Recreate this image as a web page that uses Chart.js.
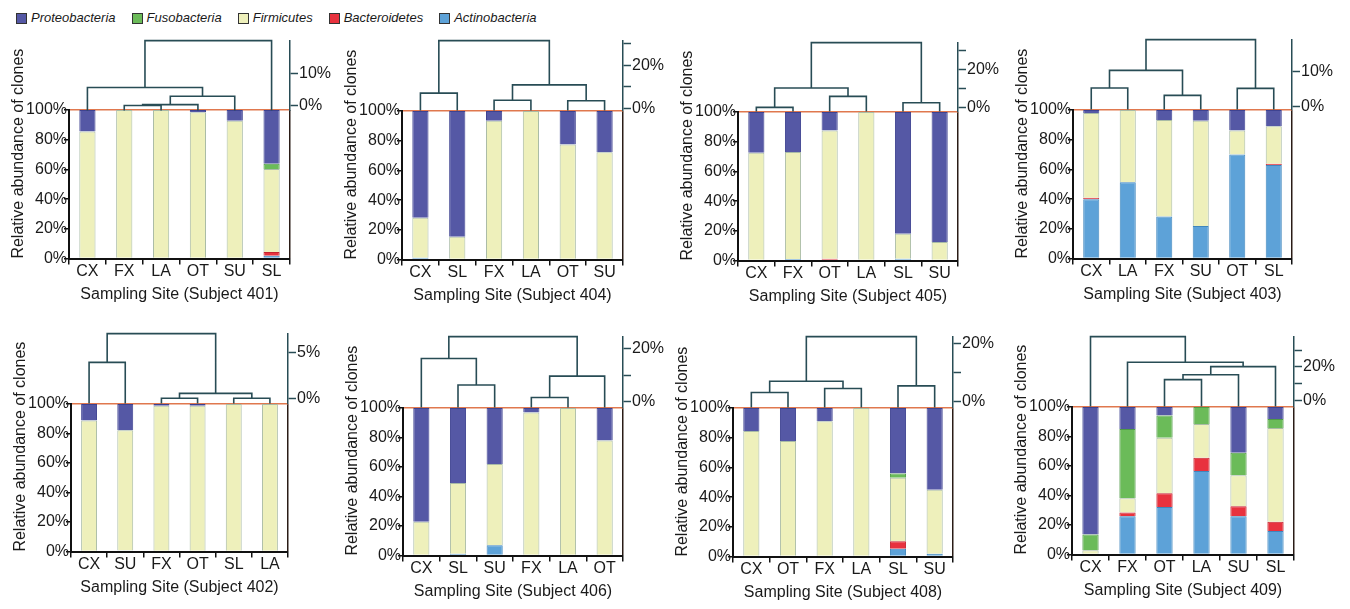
<!DOCTYPE html>
<html>
<head>
<meta charset="utf-8">
<script src="https://cdn.jsdelivr.net/npm/chart.js@4.4.1/dist/chart.umd.min.js"></script>
<style>
  body { margin: 0; background: #fff; width: 1350px; height: 609px; position: relative; overflow: hidden;
         font-family: "Liberation Sans", Arial, sans-serif; }
  canvas { position: absolute; }
  #legend { position: absolute; left: 16px; top: 9px; display: flex; gap: 16px; font-size: 13px;
            font-style: italic; color: #1a1a1a; line-height: 18px; }
  .item { display: flex; align-items: center; gap: 4px; }
  .box { width: 9px; height: 9px; border: 1px solid #333; }
</style>
</head>
<body>
<div id="legend"></div>
<script>
// phyla, listed top of stack first (legend order)
const phyla = ['Proteobacteria', 'Fusobacteria', 'Firmicutes', 'Bacteroidetes', 'Actinobacteria'];
const phylaColors = ['#5558a5', '#6bbb59', '#eef0bb', '#e8323e', '#5da2d8'];
const phylaBorders = ['#3e4290', '#4f9a45', '#a9bba6', '#c4242e', '#3f86bd'];

// Subject 401
const sites401 = ['CX', 'FX', 'LA', 'OT', 'SU', 'SL'];
const actino401 = [0, 0, 0, 0, 0, 2];
const bactero401 = [0, 0, 0, 0, 0, 2.5];
const firmi401 = [85.5, 100, 100, 98.5, 92.8, 55.8];
const fuso401 = [0, 0, 0, 0, 0, 3.5];
const proteo401 = [14.5, 0, 0, 1.5, 7.2, 36.2];
const tree401 = [[1, 2, 0.1], [6, 3, 0.4], [7, 4, 3.0], [0, 8, 5.7], [9, 5, 20.2]];
const ticks401 = [0, 10];

// Subject 404
const sites404 = ['CX', 'SL', 'FX', 'LA', 'OT', 'SU'];
const actino404 = [1.2, 0, 0, 0, 0, 0];
const bactero404 = [0, 0, 0, 0, 0, 0];
const firmi404 = [27, 15.3, 93.5, 100, 77.5, 72.2];
const fuso404 = [0, 0, 0, 0, 0, 0];
const proteo404 = [71.8, 84.7, 6.5, 0, 22.5, 27.8];
const tree404 = [[4, 5, 3.6], [2, 3, 3.8], [0, 1, 7.1], [7, 6, 10.9], [8, 9, 31.4]];
const ticks404 = [0, 10, 20, 30];

// Subject 405
const sites405 = ['CX', 'FX', 'OT', 'LA', 'SL', 'SU'];
const actino405 = [0, 1, 0, 0, 1.2, 0];
const bactero405 = [0, 0, 1.2, 0, 0, 0];
const firmi405 = [72.5, 72, 86.3, 100, 16.8, 12.5];
const fuso405 = [0, 0, 0, 0, 0, 0];
const proteo405 = [27.5, 27, 12.5, 0, 82, 87.5];
const tree405 = [[0, 1, 0.2], [4, 5, 2.6], [2, 3, 6], [6, 8, 10.4], [9, 7, 34.2]];
const ticks405 = [0, 10, 20, 30];

// Subject 403
const sites403 = ['CX', 'LA', 'FX', 'SU', 'OT', 'SL'];
const actino403 = [40, 51.3, 28.3, 22, 70, 63];
const bactero403 = [1, 0, 0, 0, 0, 0.8];
const firmi403 = [57, 48.7, 65, 70.8, 16.2, 25.2];
const fuso403 = [0, 0, 0, 0, 0, 0];
const proteo403 = [2, 0, 6.7, 7.2, 13.8, 11];
const tree403 = [[2, 3, 3.2], [4, 5, 5.2], [0, 1, 5.3], [8, 6, 10.4], [9, 7, 19.3]];
const ticks403 = [0, 10];

// Subject 402
const sites402 = ['CX', 'SU', 'FX', 'OT', 'SL', 'LA'];
const actino402 = [0, 0.8, 0, 0, 0, 0];
const bactero402 = [0, 0, 0, 0, 0, 0];
const firmi402 = [88.9, 81.5, 98.8, 98.8, 100, 100];
const fuso402 = [0, 0, 0, 0, 0, 0];
const proteo402 = [11.1, 17.7, 1.2, 1.2, 0, 0];
const tree402 = [[2, 3, 0.02], [4, 5, 0.02], [6, 7, 0.55], [0, 1, 3.9], [9, 8, 7.0]];
const ticks402 = [0, 5];

// Subject 406
const sites406 = ['CX', 'SL', 'SU', 'FX', 'LA', 'OT'];
const actino406 = [0, 1.2, 7, 0, 0, 0];
const bactero406 = [0, 0, 0, 0, 0, 0];
const firmi406 = [23, 48, 55, 97, 100, 78];
const fuso406 = [0, 0, 0, 0, 0, 0];
const proteo406 = [77, 50.8, 38, 3, 0, 22];
const tree406 = [[3, 4, 1.6], [1, 2, 6.3], [6, 5, 9.6], [0, 7, 16.2], [9, 8, 24.4]];
const ticks406 = [0, 10, 20];

// Subject 408
const sites408 = ['CX', 'OT', 'FX', 'LA', 'SL', 'SU'];
const actino408 = [0, 0, 0, 0, 5.3, 2];
const bactero408 = [0, 0, 0, 0, 5, 0];
const firmi408 = [84.5, 77.8, 91, 100, 42.7, 43];
const fuso408 = [0, 0, 0, 0, 3, 0];
const proteo408 = [15.5, 22.2, 9, 0, 44, 55];
const tree408 = [[0, 1, 3.2], [2, 3, 4.6], [4, 5, 5.5], [6, 7, 7.1], [9, 8, 22.4]];
const ticks408 = [0, 10, 20];

// Subject 409
const sites409 = ['CX', 'FX', 'OT', 'LA', 'SU', 'SL'];
const actino409 = [0, 26, 32.3, 56.6, 26, 16];
const bactero409 = [0, 2.6, 9.3, 9, 6.8, 6.2];
const firmi409 = [2.9, 9.5, 37.5, 22.9, 21, 63.6];
const fuso409 = [10.8, 47, 15.1, 11.5, 15.2, 6];
const proteo409 = [86.3, 14.9, 5.8, 0, 31, 8.2];
const tree409 = [[2, 3, 12.4], [6, 4, 15.3], [7, 5, 20.2], [1, 8, 22.8], [0, 9, 38.2]];
const ticks409 = [0, 10, 20, 30];

// the panels, as the library needs them (series bottom of stack first)
const panels = [
  { subject: '401', sites: sites401, values: [actino401, bactero401, firmi401, fuso401, proteo401], tree: tree401, ticks: ticks401, labelStep: 10 },
  { subject: '404', sites: sites404, values: [actino404, bactero404, firmi404, fuso404, proteo404], tree: tree404, ticks: ticks404, labelStep: 20 },
  { subject: '405', sites: sites405, values: [actino405, bactero405, firmi405, fuso405, proteo405], tree: tree405, ticks: ticks405, labelStep: 20 },
  { subject: '403', sites: sites403, values: [actino403, bactero403, firmi403, fuso403, proteo403], tree: tree403, ticks: ticks403, labelStep: 10 },
  { subject: '402', sites: sites402, values: [actino402, bactero402, firmi402, fuso402, proteo402], tree: tree402, ticks: ticks402, labelStep: 5 },
  { subject: '406', sites: sites406, values: [actino406, bactero406, firmi406, fuso406, proteo406], tree: tree406, ticks: ticks406, labelStep: 20 },
  { subject: '408', sites: sites408, values: [actino408, bactero408, firmi408, fuso408, proteo408], tree: tree408, ticks: ticks408, labelStep: 20 },
  { subject: '409', sites: sites409, values: [actino409, bactero409, firmi409, fuso409, proteo409], tree: tree409, ticks: ticks409, labelStep: 20 }
];

// plot-area boxes on the page (l, r, t, b), top of dendrogram, and leaf level of the tree axis
const boxes = [
  { l: 69, r: 290, t: 110, b: 259, top: 39.5, leaf: -1.4 },
  { l: 402, r: 623, t: 111, b: 260, top: 40, leaf: -0.9 },
  { l: 738, r: 958, t: 112, b: 261, top: 42, leaf: -1.9 },
  { l: 1073, r: 1292, t: 110, b: 259, top: 39, leaf: -0.86 },
  { l: 71, r: 288, t: 404, b: 552, top: 333, leaf: -0.53 },
  { l: 403, r: 623, t: 407.5, b: 555.5, top: 336, leaf: -2.1 },
  { l: 733, r: 953, t: 407.5, b: 556, top: 336, leaf: -1.9 },
  { l: 1072, r: 1294, t: 407, b: 555, top: 336, leaf: -3.7 }
];

const AXIS_W = 60;     // left y axis
const RIGHT_W = 45;    // dendrogram axis on the right
const PAD_T = 10;      // dendrogram canvas padding
const PAD_BAR = 80;    // room above the bar plot for the long y title
const XAXIS_H = 47.4;  // tick 6 + labels 19.2 + title 28.2 - padding 6
const TEXT = '#1a1a1a';
const TREE = '#284c55';

Chart.defaults.font.family = '"Liberation Sans", Arial, sans-serif';
Chart.defaults.font.size = 16;
Chart.defaults.color = TEXT;

// legend
const legendEl = document.getElementById('legend');
phyla.forEach((name, i) => {
  const item = document.createElement('div');
  item.className = 'item';
  item.innerHTML = '<span class="box" style="background:' + phylaColors[i] + '"></span><span>' + name + '</span>';
  legendEl.appendChild(item);
});

function addCanvas(left, top, w, h) {
  const c = document.createElement('canvas');
  c.width = Math.round(w);
  c.height = Math.round(h);
  c.style.left = left + 'px';
  c.style.top = top + 'px';
  document.body.appendChild(c);
  return c;
}

function makeBars(p, box) {
  const w = box.r - box.l + AXIS_W + RIGHT_W;
  const h = PAD_BAR + (box.b - box.t) + XAXIS_H;
  const canvas = addCanvas(box.l - AXIS_W, box.t - PAD_BAR, w, h);
  // stack order: Actinobacteria at the bottom, Proteobacteria on top
  const datasets = p.values.map((vals, k) => {
    const i = phyla.length - 1 - k;
    return {
      label: phyla[i],
      data: vals,
      backgroundColor: phylaColors[i],
      borderColor: phylaBorders[i],
      borderWidth: 1,
      barPercentage: 0.44,
      categoryPercentage: 1
    };
  });
  new Chart(canvas, {
    type: 'bar',
    data: { labels: p.sites, datasets },
    options: {
      responsive: false,
      animation: false,
      devicePixelRatio: 1,
      layout: { padding: { top: PAD_BAR, right: RIGHT_W, left: 0, bottom: 0 } },
      plugins: { legend: { display: false }, tooltip: { enabled: false } },
      scales: {
        x: {
          stacked: true,
          grid: {
            offset: true,
            color: c => c.type === 'tick' ? 'rgba(0,0,0,0)' : '#2a1c16',
            lineWidth: 1.5,
            tickColor: '#111',
            tickWidth: 1.5,
            tickLength: 6
          },
          border: { color: '#111', width: 2 },
          ticks: { padding: -3, maxRotation: 0, autoSkip: false, color: TEXT },
          title: {
            display: true,
            text: 'Sampling Site (Subject ' + p.subject + ')',
            color: TEXT,
            padding: { top: 7, bottom: 2 }
          }
        },
        y: {
          stacked: true,
          min: 0,
          max: 100,
          afterFit: s => { s.width = AXIS_W; },
          ticks: { stepSize: 20, padding: -3, color: TEXT, callback: v => v + '%' },
          grid: {
            color: c => (c.tick && c.tick.value === 100) ? '#e0784e' : 'rgba(0,0,0,0)',
            lineWidth: 1.5,
            tickColor: '#111',
            tickWidth: 1.5,
            tickLength: 5
          },
          border: { color: '#111', width: 2 },
          title: { display: true, text: 'Relative abundance of clones', color: TEXT, padding: 0, align: 'start' }
        }
      }
    }
  });
}

function makeTree(p, box) {
  const w = box.r - box.l + AXIS_W + RIGHT_W;
  const h = (box.t - box.top) + 2 * PAD_T;
  const canvas = addCanvas(box.l - AXIS_W, box.top - PAD_T, w, h);

  // leaves sit at the category positions 0..5, each merge makes a new node
  const nodes = p.sites.map((s, i) => ({ x: i, y: box.leaf }));
  const datasets = p.tree.map(([a, b, height]) => {
    const A = nodes[a], B = nodes[b];
    nodes.push({ x: (A.x + B.x) / 2, y: height });
    return {
      data: [{ x: A.x, y: A.y }, { x: A.x, y: height }, { x: B.x, y: height }, { x: B.x, y: B.y }],
      borderColor: TREE,
      borderWidth: 1.6,
      pointRadius: 0,
      fill: false,
      tension: 0,
      clip: false
    };
  });
  const top = p.tree[p.tree.length - 1][2];

  new Chart(canvas, {
    type: 'line',
    data: { datasets },
    options: {
      responsive: false,
      animation: false,
      devicePixelRatio: 1,
      layout: { padding: { top: PAD_T, bottom: PAD_T, left: AXIS_W, right: 0 } },
      plugins: { legend: { display: false }, tooltip: { enabled: false } },
      scales: {
        x: { type: 'linear', display: false, min: -0.5, max: 5.5 },
        y: {
          position: 'right',
          min: box.leaf,
          max: top,
          afterBuildTicks: s => { s.ticks = p.ticks.map(v => ({ value: v })); },
          afterFit: s => { s.width = RIGHT_W; },
          ticks: {
            padding: 1,
            color: TEXT,
            callback: v => (v % p.labelStep === 0) ? v + '%' : ''
          },
          grid: { drawOnChartArea: false, tickLength: 8, tickColor: TREE, tickWidth: 1.5 },
          border: { color: TREE, width: 1.5 }
        }
      }
    }
  });
}

panels.forEach((p, i) => {
  makeBars(p, boxes[i]);
  makeTree(p, boxes[i]);
});
</script>
</body>
</html>
